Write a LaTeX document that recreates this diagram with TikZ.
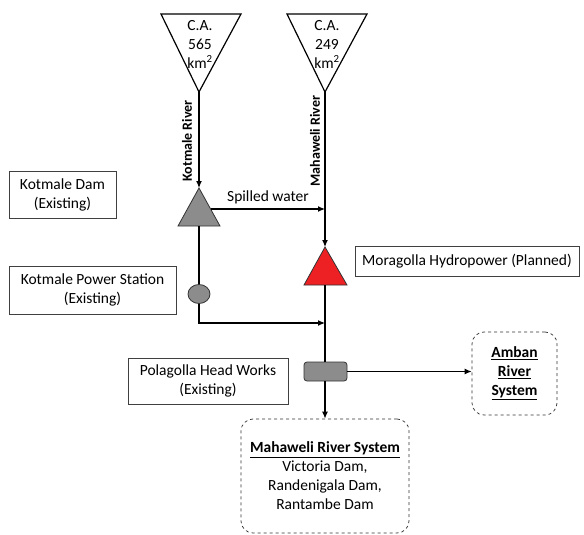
\documentclass[tikz,border=0pt]{standalone}
\usepackage{fontspec}
\setmainfont{Carlito}
\usetikzlibrary{arrows.meta,shapes.geometric}
\definecolor{damred}{RGB}{237,32,36}
\tikzset{
  flow/.style={line width=1.2pt,-{Latex[length=7pt,width=6pt]}},
  plain/.style={line width=1.2pt},
  infobox/.style={draw=black!75,line width=0.7pt,align=center,inner sep=0pt,font=\fontsize{15.5}{19}\selectfont},
  sysbox/.style={draw=black!80,dashed,line width=0.7pt,rounded corners=12pt,align=center,inner sep=0pt,font=\fontsize{15.5}{19}\selectfont},
  lbl/.style={font=\fontsize{15.5}{19}\selectfont,inner sep=0pt},
  rivlbl/.style={font=\bfseries\fontsize{14}{16}\selectfont,rotate=90,inner sep=0pt}
}
\begin{document}
\begin{tikzpicture}[x=1pt,y=-1pt]
\useasboundingbox (0,0) rectangle (584,535);
% catchment triangles
\draw[line width=1.2pt] (161,14) -- (241,14) -- (199,92) -- cycle;
\coordinate (ca1) at (199,92);
\draw[line width=1.2pt] (287,14) -- (367,14) -- (325,92) -- cycle;
\coordinate (ca2) at (325,92);
\node[lbl,align=center] (t1) at (200,44) {C.A.\\565\\km\textsuperscript{2}};
\node[lbl,align=center] (t2) at (327,44) {C.A.\\249\\km\textsuperscript{2}};
% Kotmale dam triangle (gray)
\draw[black!80,line width=0.8pt,fill=black!45] (178,226) -- (220,226) -- (199,188) -- cycle;
\coordinate (damtop) at (199,188);
\coordinate (damright) at (211,209);
\coordinate (dambot) at (199,226);
% Moragolla triangle (red)
\draw[black!80,line width=0.8pt,fill=damred] (304,285) -- (347,285) -- (325,247) -- cycle;
\coordinate (redtop) at (325,247);
\coordinate (redbot) at (325,285);
% power station
\node[draw=black!80,line width=0.8pt,fill=black!45,ellipse,minimum width=22pt,minimum height=19pt,inner sep=0pt] (ps) at (199,294) {};
% headworks
\node[draw=black!80,line width=0.8pt,fill=black!45,rounded corners=3pt,minimum width=43pt,minimum height=19pt,inner sep=0pt] (hw) at (325.5,371.5) {};
% info boxes
\node[infobox,minimum width=107pt,minimum height=47pt] (kd) at (62.5,194.5) {Kotmale Dam\\(Existing)};
\node[infobox,minimum width=167pt,minimum height=48pt] (kps) at (92.5,290) {Kotmale Power Station\\(Existing)};
\node[infobox,minimum width=224pt,minimum height=30pt] (mh) at (467,261) {Moragolla Hydropower (Planned)};
\node[infobox,minimum width=160pt,minimum height=46pt] (ph) at (208,381) {Polagolla Head Works\\(Existing)};
\node[sysbox,minimum width=85pt,minimum height=83pt] (ab) at (514.5,373.5) {\textbf{\underline{Amban}}\\\textbf{\underline{River}}\\\textbf{\underline{System}}};
\node[sysbox,minimum width=168pt,minimum height=114pt] (mr) at (325,476) {\textbf{\underline{Mahaweli River System}}\\Victoria Dam,\\Randenigala Dam,\\Rantambe Dam};
% river labels
\node[rivlbl] (kr) at (187,141) {Kotmale River};
\node[rivlbl] (mrl) at (315,141) {Mahaweli River};
% flows
\draw[flow] (ca1) -- (damtop);
\draw[flow] (ca2) -- (redtop);
\coordinate (spillend) at (325,209);
\draw[flow] (damright) -- (spillend) node[lbl,midway,above=4pt] (sw) {Spilled water};
\draw[plain] (dambot) -- (ps.north);
\coordinate (tailcorner) at (199,323);
\coordinate (tailend) at (325,323);
\draw[flow] (ps.south) -- (tailcorner) -- (tailend);
\draw[plain] (redbot) -- (hw.north -| redbot);
\draw[flow] (hw.south -| redbot) -- (mr.north -| redbot);
\draw[flow] (hw.east) -- (hw.east -| ab.west);
\end{tikzpicture}
\end{document}
